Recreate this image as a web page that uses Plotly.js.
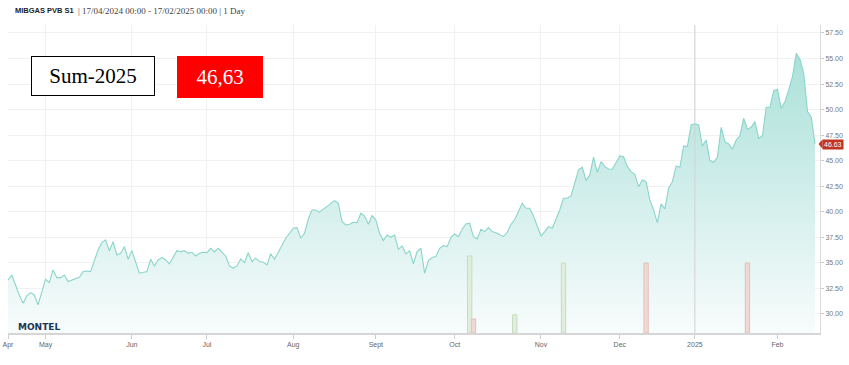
<!DOCTYPE html>
<html>
<head>
<meta charset="utf-8">
<script src="https://cdn.plot.ly/plotly-3.0.1.min.js"></script>
<style>
html,body{margin:0;padding:0;background:#fff;}
#chart{width:849px;height:365px;}
</style>
</head>
<body>
<div id="chart"></div>
<script>
// ---- data ----
const dates = [
"2024-04-17","2024-04-18","2024-04-22","2024-04-23","2024-04-24","2024-04-25","2024-04-26","2024-04-29",
"2024-05-01","2024-05-02","2024-05-03","2024-05-06","2024-05-07","2024-05-08","2024-05-09","2024-05-13",
"2024-05-14","2024-05-15","2024-05-16","2024-05-17","2024-05-20","2024-05-21","2024-05-22","2024-05-23",
"2024-05-24","2024-05-27","2024-05-28","2024-05-29","2024-05-30","2024-05-31",
"2024-06-03","2024-06-04","2024-06-05","2024-06-07","2024-06-10","2024-06-11","2024-06-12","2024-06-13",
"2024-06-14","2024-06-17","2024-06-18","2024-06-19","2024-06-20","2024-06-21","2024-06-24","2024-06-25",
"2024-06-26","2024-06-27","2024-06-28",
"2024-07-01","2024-07-02","2024-07-03","2024-07-04","2024-07-05","2024-07-08","2024-07-09","2024-07-10",
"2024-07-11","2024-07-12","2024-07-15","2024-07-16","2024-07-17","2024-07-18","2024-07-19","2024-07-22",
"2024-07-23","2024-07-24","2024-07-25","2024-07-26","2024-07-29","2024-07-30","2024-07-31",
"2024-08-01","2024-08-02","2024-08-05","2024-08-06","2024-08-07","2024-08-08","2024-08-09","2024-08-12",
"2024-08-13","2024-08-15","2024-08-16","2024-08-19","2024-08-20","2024-08-21","2024-08-22","2024-08-23",
"2024-08-26","2024-08-27","2024-08-28","2024-08-29","2024-08-30",
"2024-09-02","2024-09-03","2024-09-04","2024-09-05","2024-09-06","2024-09-09","2024-09-10","2024-09-11",
"2024-09-12","2024-09-13","2024-09-16","2024-09-17","2024-09-18","2024-09-19","2024-09-20","2024-09-23",
"2024-09-24","2024-09-25","2024-09-26","2024-09-27","2024-09-30",
"2024-10-01","2024-10-02","2024-10-03","2024-10-04","2024-10-07","2024-10-08","2024-10-09","2024-10-10",
"2024-10-11","2024-10-14","2024-10-15","2024-10-16","2024-10-17","2024-10-18","2024-10-21","2024-10-22",
"2024-10-23","2024-10-24","2024-10-25","2024-10-28","2024-10-29","2024-10-30","2024-10-31",
"2024-11-01","2024-11-04","2024-11-05","2024-11-06","2024-11-07","2024-11-08","2024-11-11","2024-11-12",
"2024-11-13","2024-11-14","2024-11-15","2024-11-18","2024-11-19","2024-11-20","2024-11-21","2024-11-22",
"2024-11-25","2024-11-26","2024-11-27","2024-11-28","2024-11-29",
"2024-12-02","2024-12-03","2024-12-04","2024-12-05","2024-12-06","2024-12-09","2024-12-10","2024-12-11",
"2024-12-12","2024-12-13","2024-12-16","2024-12-17","2024-12-18","2024-12-19","2024-12-20","2024-12-23",
"2024-12-24","2024-12-27","2024-12-30","2024-12-31",
"2025-01-02","2025-01-03","2025-01-06","2025-01-07","2025-01-08","2025-01-09","2025-01-10","2025-01-13",
"2025-01-14","2025-01-15","2025-01-16","2025-01-17","2025-01-20","2025-01-21","2025-01-22","2025-01-23",
"2025-01-24","2025-01-27","2025-01-28","2025-01-29","2025-01-30","2025-01-31",
"2025-02-03","2025-02-04","2025-02-05","2025-02-06","2025-02-07","2025-02-10","2025-02-11","2025-02-12",
"2025-02-13","2025-02-14","2025-02-17"
];
const prices = [
33.33,33.82,31.86,31.05,31.77,32.09,31.86,30.89,
33.40,33.07,34.31,33.56,33.56,33.82,33.17,33.40,
33.59,34.15,34.21,34.15,35.22,36.27,36.98,37.25,
36.17,37.08,35.78,35.94,36.59,35.36,
36.20,34.97,33.99,34.15,35.36,34.70,35.29,35.52,
35.29,34.90,35.55,36.20,36.10,36.20,35.94,36.04,
35.68,35.94,36.04,
36.00,36.43,36.10,36.43,36.10,35.68,34.70,34.47,
34.70,35.39,35.03,36.00,35.13,35.46,35.13,35.07,
34.80,35.88,35.36,36.00,36.76,37.41,37.90,
38.39,38.45,37.41,37.90,39.27,40.18,40.18,39.96,
40.25,40.77,41.09,40.83,39.04,38.71,38.78,38.98,
38.94,39.86,39.59,38.78,39.63,
39.20,37.90,37.18,37.73,37.51,37.73,36.33,36.66,
35.88,36.20,34.90,36.10,36.43,33.99,35.22,35.52,
35.62,36.43,36.69,36.59,37.51,
37.83,37.57,38.29,38.81,38.88,37.57,37.34,38.29,
38.06,38.45,38.06,37.96,37.80,37.57,38.00,38.76,
39.25,40.02,40.83,40.35,40.35,39.59,38.71,
37.64,38.06,38.55,38.39,39.20,40.18,41.33,41.33,
41.55,42.79,44.10,44.36,43.05,43.61,45.34,43.87,
44.91,44.42,44.19,44.16,44.81,
45.47,45.40,44.42,43.93,43.67,42.46,43.12,42.95,
41.16,40.18,38.94,40.77,40.28,42.30,42.95,44.49,
44.36,46.44,46.38,48.50,
48.60,48.50,46.44,47.03,45.01,44.85,45.34,48.27,
46.86,46.64,46.12,47.03,47.45,49.15,48.08,48.27,
48.82,47.19,47.42,50.23,50.23,51.85,
51.99,50.13,50.78,51.92,53.22,55.51,54.93,53.56,
49.80,49.25,46.63
];
const lastPrice = 46.63;
const summaryLabel = "Sum-2025";
const summaryValue = "46,63";

// volume-like bars at the bottom
const greenBarDates = ["2024-10-07","2024-10-23","2024-11-11"];
const greenBarValues = [55, 13, 50];
const redBarDates = ["2024-10-08","2024-12-11","2025-01-22"];
const redBarValues = [10, 50, 50];

const tickDates = ["2024-04-17","2024-05-01","2024-06-03","2024-07-01","2024-08-01","2024-09-02",
                   "2024-10-01","2024-11-01","2024-12-02","2025-01-02","2025-02-03"];
const tickLabels = ["Apr","May","Jun","Jul","Aug","Sept","Oct","Nov","Dec","2025","Feb"];
const yTicks = [30,32.5,35,37.5,40,42.5,45,47.5,50,52.5,55,57.5];
const holidays = ["2024-12-25","2024-12-26","2025-01-01"];

// ---- chart ----
const priceTrace = {
  x: dates, y: prices, type: 'scatter', mode: 'lines',
  line: {color: '#8ad5cb', width: 1.1},
  fill: 'tozeroy',
  fillgradient: {type: 'vertical', start: 28, stop: 56,
    colorscale: [[0, 'rgb(248,252,252)'], [1, 'rgb(170,224,217)']]},
  hoverinfo: 'skip', showlegend: false
};
const greenBars = {
  x: greenBarDates, y: greenBarValues, type: 'bar', yaxis: 'y2',
  width: 1.15 * 86400000,
  marker: {color: '#e1eede', line: {color: '#c5ddc0', width: 1}},
  showlegend: false, hoverinfo: 'skip'
};
const redBars = {
  x: redBarDates, y: redBarValues, type: 'bar', yaxis: 'y2',
  width: 1.15 * 86400000,
  marker: {color: '#f0d9d4', line: {color: '#e2c0b9', width: 1}},
  showlegend: false, hoverinfo: 'skip'
};

const pw = 812, ph = 308, px0 = 8, pyb = 333;
const PX = p => (p - px0) / pw;
const PY = p => (pyb - p) / ph;

const layout = {
  width: 849, height: 365,
  margin: {l: 8, r: 29, t: 25, b: 32},
  paper_bgcolor: '#ffffff', plot_bgcolor: '#ffffff',
  barmode: 'overlay',
  showlegend: false,
  font: {family: 'Liberation Sans, Arial, sans-serif', size: 7, color: '#666'},
  xaxis: {
    type: 'date',
    range: ['2024-04-17', '2025-02-18 08:00'],
    rangebreaks: [{bounds: ['sat', 'mon']}, {values: holidays}],
    tickmode: 'array', tickvals: tickDates, ticktext: tickLabels,
    showgrid: true, gridcolor: '#f1f1f1', gridwidth: 1,
    showline: true, linecolor: '#d6d6d6', linewidth: 2,
    ticks: 'outside', ticklen: 4, tickcolor: '#cccccc',
    tickfont: {size: 7, color: '#666'},
    zeroline: false, fixedrange: true
  },
  yaxis: {
    side: 'right',
    range: [28.14, 58.28],
    tickmode: 'array', tickvals: yTicks, tickformat: '.2f',
    showgrid: true, gridcolor: '#f1f1f1', gridwidth: 1,
    showline: true, linecolor: '#dcdcdc', linewidth: 1,
    ticks: 'outside', ticklen: 3, tickcolor: '#cccccc',
    tickfont: {size: 7, color: '#777'},
    zeroline: false, fixedrange: true
  },
  yaxis2: {
    overlaying: 'y', side: 'left', range: [0, 220], visible: false, fixedrange: true
  },
  shapes: [
    {type: 'line', xref: 'x', yref: 'paper', x0: '2025-01-02', x1: '2025-01-02', y0: 0, y1: 1,
     line: {color: '#d2d2d2', width: 1}},
    {type: 'path', xref: 'paper', yref: 'y',
     path: 'M ' + PX(818.5) + ',' + lastPrice + ' L ' + PX(822.5) + ',' + (lastPrice + 0.45) +
           ' L ' + PX(822.5) + ',' + (lastPrice - 0.45) + ' Z',
     fillcolor: '#c23320', line: {width: 0}}
  ],
  annotations: [
    {xref: 'paper', yref: 'paper', x: PX(13), y: PY(10.5), xanchor: 'left', yanchor: 'middle',
     showarrow: false, text: '<b>MIBGAS PVB S1</b>',
     font: {family: 'Liberation Sans, Arial, sans-serif', size: 7.5, color: '#222'}},
    {xref: 'paper', yref: 'paper', x: PX(76), y: PY(10.5), xanchor: 'left', yanchor: 'middle',
     showarrow: false, text: '| 17/04/2024 00:00 - 17/02/2025 00:00 | 1 Day',
     font: {family: 'Liberation Serif, Times New Roman, serif', size: 9, color: '#444'}},
    {xref: 'paper', yref: 'paper', x: PX(31), y: PY(56), xanchor: 'left', yanchor: 'top',
     showarrow: false, text: summaryLabel, width: 122, height: 38, borderpad: 0,
     bgcolor: '#ffffff', bordercolor: '#000000', borderwidth: 1, align: 'center', valign: 'middle',
     font: {family: 'Liberation Serif, Times New Roman, serif', size: 21, color: '#000'}},
    {xref: 'paper', yref: 'paper', x: PX(177), y: PY(56), xanchor: 'left', yanchor: 'top',
     showarrow: false, text: summaryValue, width: 86, height: 42, borderpad: 0,
     bgcolor: '#ff0000', borderwidth: 0, align: 'center', valign: 'middle',
     font: {family: 'Liberation Serif, Times New Roman, serif', size: 21, color: '#ffffff'}},
    {xref: 'paper', yref: 'y', x: 1, y: lastPrice, xanchor: 'left', yanchor: 'middle', xshift: 2,
     showarrow: false, text: lastPrice.toFixed(2), bgcolor: '#c23320', borderpad: 1,
     font: {family: 'Liberation Sans, Arial, sans-serif', size: 7, color: '#ffffff'}},
    {xref: 'paper', yref: 'paper', x: PX(16), y: PY(327), xanchor: 'left', yanchor: 'middle',
     showarrow: false, text: '<b>MONTEL</b>',
     font: {family: 'DejaVu Sans, Verdana, sans-serif', size: 9, color: '#1d3557'}}
  ]
};

Plotly.newPlot('chart', [priceTrace, greenBars, redBars], layout, {displayModeBar: false, staticPlot: true});
</script>
</body>
</html>
